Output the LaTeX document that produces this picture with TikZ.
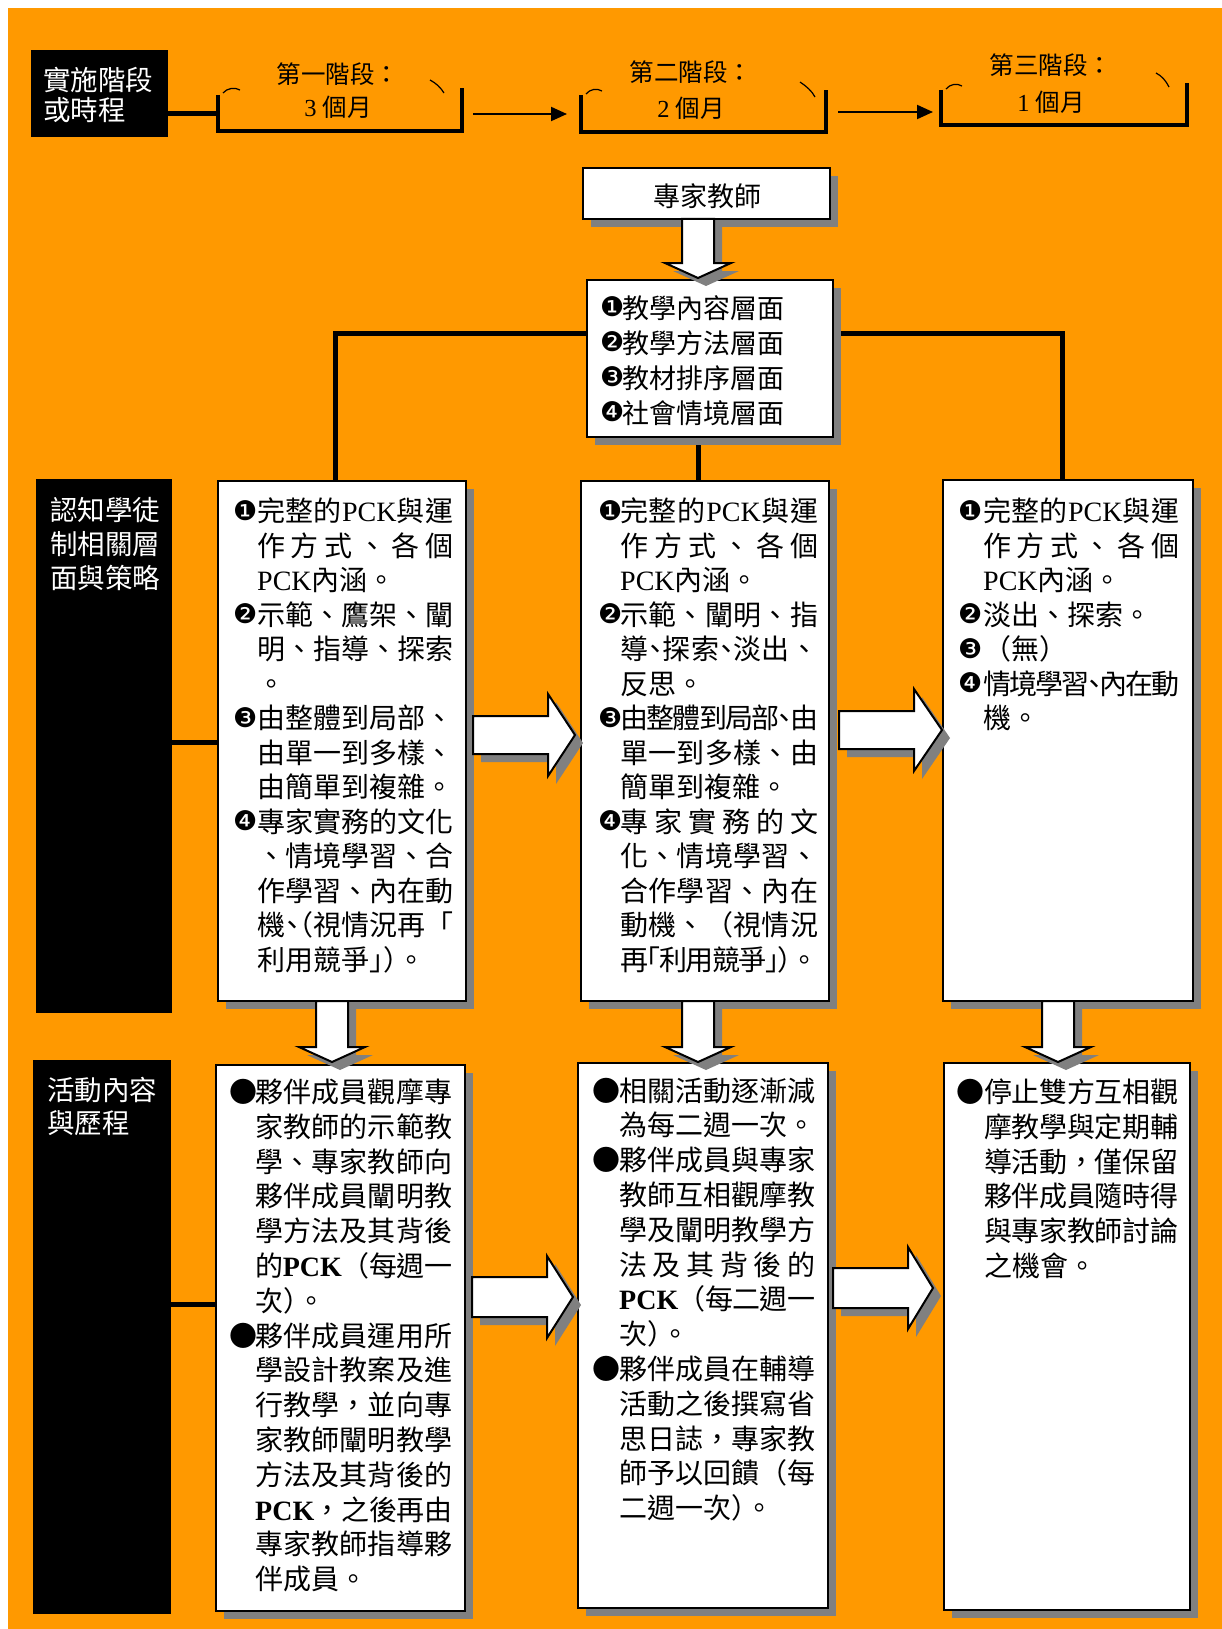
\documentclass[tikz,border=0pt]{standalone}
\usepackage{fontspec}
\setmainfont{Liberation Serif}
\newfontfamily\cjk{Noto Sans CJK TC}
\newfontfamily\dv{DejaVu Sans}
\usetikzlibrary{arrows.meta}
\definecolor{bgor}{HTML}{FF9900}
\definecolor{shg}{HTML}{808080}
\pgfdeclarelayer{back}
\pgfdeclarelayer{lines}
\pgfsetlayers{back,lines,main}
\newlength\bw
\newlength\tw
\newif\ifsprgap
\makeatletter
\newcommand\spr[1]{\hbox to\tw{\sprgapfalse\@tfor\spr@t:=#1\do{\ifsprgap\hskip0pt plus1fil minus1fil\relax\fi\sprgaptrue\spr@t}}}
\makeatother
\newcommand\bJ[2]{\hbox{\hbox to\bw{#1\hss}\spr{#2}}}
\newcommand\bN[2]{\hbox{\hbox to\bw{#1\hss}#2}}
\newcommand\cJ[1]{\hbox{\hskip\bw\relax\spr{#1}}}
\newcommand\cN[1]{\hbox{\hskip\bw\relax #1}}
\newcommand\tb[3]{\setlength\bw{#1}\setlength\tw{#2}\vtop{#3}}
\newcommand\pck{{\rmfamily PCK}}
\newcommand\pckb{{\rmfamily\bfseries PCK}}
\newcommand\hdn{\makebox[0.5em][c]{、}}
\newcommand\hpl{\makebox[0.5em][r]{（}}
\newcommand\hpr{\makebox[0.5em][l]{）}}
\newcommand\hlq{\makebox[0.5em][r]{「}}
\newcommand\hrq{\makebox[0.5em][l]{」}}
\newcommand\bul[1]{\raisebox{1.5pt}{\dv\fontsize{27}{27}\selectfont #1}}
\newcommand\kA{\bul{❶}}
\newcommand\kB{\bul{❷}}
\newcommand\kC{\bul{❸}}
\newcommand\kD{\bul{❹}}
\newcommand\kE{●}
\newcommand\rarr[5]{\draw[blk] (#1,#4-#5) -- (#2,#4-#5) -- (#2,#4-41) -- (#3,#4) -- (#2,#4+41) -- (#2,#4+#5) -- (#1,#4+#5) -- cycle;}
\newcommand\darr[4]{\draw[blk] (#1-16,#2) -- (#1-16,#3) -- (#1-33,#3) -- (#1,#4) -- (#1+33,#3) -- (#1+16,#3) -- (#1+16,#2) -- cycle;}
\begin{document}
\begin{tikzpicture}[x=1pt,y=-1pt,
 sh/.style={preaction={draw=none,fill=shg,transform canvas={xshift=8pt,yshift=-8pt}}},
 wbox/.style={rectangle,draw=black,line width=2pt,fill=white,sh,inner sep=0pt,outer sep=0pt,anchor=north west},
 lbox/.style={rectangle,fill=black,inner sep=0pt,outer sep=0pt,anchor=north west},
 conn/.style={line width=5pt,draw=black,line join=miter},
 brk/.style={line width=4pt,draw=black,line join=miter},
 tipc/.style={line width=1.2pt,draw=black},
 blk/.style={draw=black,line width=2pt,fill=white,sh,line join=miter},
 txt/.style={inner sep=0pt,anchor=base west,font=\cjk\fontsize{28}{34.5}\selectfont},
 htx/.style={inner sep=0pt,anchor=base,font=\cjk\fontsize{24.5}{30}\selectfont},
 wtx/.style={inner sep=0pt,anchor=base west,text=white},
 harr/.style={line width=2pt,-{Triangle[length=16pt,width=14pt]}},
]
\useasboundingbox (0,0) rectangle (1222,1629);
\begin{pgfonlayer}{back}
\fill[white] (0,0) rectangle (1222,1629);
\fill[bgor] (8,8) rectangle (1222,1629);
\end{pgfonlayer}

% boxes
\node[lbox,minimum width=137,minimum height=87] (lab1) at (31,50) {};
\node[lbox,minimum width=136,minimum height=534] (lab2) at (36,479) {};
\node[lbox,minimum width=138,minimum height=554] (lab3) at (33,1060) {};
\node[wbox,minimum width=247,minimum height=51] (exp) at (583,168) {};
\node[wbox,minimum width=246,minimum height=157] (asp) at (587,280) {};
\node[wbox,minimum width=248,minimum height=520] (r1a) at (218,481) {};
\node[wbox,minimum width=248,minimum height=520] (r1b) at (581,481) {};
\node[wbox,minimum width=250,minimum height=521] (r1c) at (943,480) {};
\node[wbox,minimum width=249,minimum height=546] (r2a) at (216,1065) {};
\node[wbox,minimum width=250,minimum height=545] (r2b) at (578,1063) {};
\node[wbox,minimum width=246,minimum height=547] (r2c) at (944,1063) {};

% connector lines
\coordinate (l1) at (0,114);
\coordinate (b1L) at (218,114);
\coordinate (l2) at (0,742);
\coordinate (l3) at (0,1304);
\coordinate (hl) at (335,333);
\coordinate (hr) at (1062,333);
\coordinate (vm) at (698,400);
\begin{pgfonlayer}{lines}
\draw[conn] (lab1.east |- l1) -- (b1L);
\draw[conn] (hl |- r1a.north) -- (hl) -- (hr) -- (hr |- r1c.north);
\draw[conn] (asp.south -| vm) -- (r1b.north -| vm);
\draw[conn] (lab2.east |- l2) -- (r1a.west |- l2);
\draw[conn] (lab3.east |- l3) -- (r2a.west |- l3);
\end{pgfonlayer}

% stage brackets
\draw[brk] (218,95) -- (218,131) -- (462,131) -- (462,88);
\draw[tipc] (223,93) .. controls (227,88) and (235,87) .. (240,90);
\draw[tipc] (430,80) .. controls (436,83) and (441,88) .. (444,93);
\draw[brk] (581,95) -- (581,132) -- (826,132) -- (826,90);
\draw[tipc] (586,94) .. controls (590,89) and (597,88) .. (602,91);
\draw[tipc] (800,82) .. controls (806,86) and (812,91) .. (815,97);
\draw[brk] (941,90) -- (941,125) -- (1187,125) -- (1187,83);
\draw[tipc] (946,89) .. controls (950,84) and (957,83) .. (962,86);
\draw[tipc] (1156,73) .. controls (1162,76) and (1166,81) .. (1169,87);
\coordinate (a1s) at (473,114);
\coordinate (a1e) at (567,114);
\coordinate (a2s) at (838,112);
\coordinate (a2e) at (933,112);
\draw[harr] (a1s) -- (a1e);
\draw[harr] (a2s) -- (a2e);

% block arrows
\darr{698}{219}{263}{278}
\darr{332}{1001}{1047}{1062}
\darr{698}{1001}{1047}{1062}
\darr{1058}{1001}{1047}{1062}
\rarr{473}{548}{575}{735}{19}
\rarr{839}{914}{942}{730}{19}
\rarr{472}{547}{573}{1297}{20}
\rarr{833}{908}{933}{1288}{20}

% header texts
\node[htx] (s1a) at (338,84) {第一階段：};
\node[htx] (s1b) at (338,117) {{\rmfamily 3 }個月};
\node[htx] (s2a) at (691,82) {第二階段：};
\node[htx] (s2b) at (691,118) {{\rmfamily 2 }個月};
\node[htx] (s3a) at (1051,75) {第三階段：};
\node[htx] (s3b) at (1051,112) {{\rmfamily 1 }個月};

% label texts
\node[wtx,font=\cjk\fontsize{27.5}{30}\selectfont] (lab1t) at (43,90.5) {\vtop{\hbox{實施階段}\hbox{或時程}}};
\node[wtx,font=\cjk\fontsize{27.5}{34}\selectfont] (lab2t) at (50,520.5) {\vtop{\hbox{認知學徒}\hbox{制相關層}\hbox{面與策略}}};
\node[wtx,font=\cjk\fontsize{27.5}{33}\selectfont] (lab3t) at (47,1100.5) {\vtop{\hbox{活動內容}\hbox{與歷程}}};

% expert and aspects
\node[inner sep=0pt,anchor=base,font=\cjk\fontsize{27}{27}\selectfont] (expt) at (707,207) {專家教師};
\node[txt,font=\cjk\fontsize{27}{35}\selectfont] (aspt) at (600,318.3) {\tb{22pt}{170pt}{%
\bN\kA{教學內容層面}
\bN\kB{教學方法層面}
\bN\kC{教材排序層面}
\bN\kD{社會情境層面}}};

% row 1 texts
\node[txt] (t1a) at (233,521.5) {\tb{24pt}{196pt}{%
\bJ\kA{完整的\pck 與運}
\cJ{作方式、各個}
\cN{\pck 內涵。}
\bJ\kB{示範、鷹架、闡}
\cJ{明、指導、探索}
\cN{。}
\bJ\kC{由整體到局部、}
\cJ{由單一到多樣、}
\cN{由簡單到複雜。}
\bJ\kD{專家實務的文化}
\cJ{、情境學習、合}
\cJ{作學習、內在動}
\cJ{機\hdn\hpl 視情況再「}
\cN{利用競爭\hrq\hpr 。}}};

\node[txt] (t1b) at (598,521.5) {\tb{22pt}{198pt}{%
\bJ\kA{完整的\pck 與運}
\cJ{作方式、各個}
\cN{\pck 內涵。}
\bJ\kB{示範、闡明、指}
\cJ{導\hdn 探索\hdn 淡出、}
\cN{反思。}
\bJ\kC{由整體到局部\hdn 由}
\cJ{單一到多樣、由}
\cN{簡單到複雜。}
\bJ\kD{專家實務的文}
\cJ{化、情境學習、}
\cJ{合作學習、內在}
\cJ{動機、（視情況}
\cJ{再\hlq 利用競爭\hrq\hpr 。}}};

\node[txt] (t1c) at (958,521.5) {\tb{25pt}{196pt}{%
\bJ\kA{完整的\pck 與運}
\cJ{作方式、各個}
\cN{\pck 內涵。}
\bN\kB{淡出、探索。}
\bN\kC{（無）}
\bJ\kD{情境學習\hdn 內在動}
\cN{機。}}};

% row 2 texts
\node[txt,font=\cjk\fontsize{28}{34.8}\selectfont] (t2a) at (229,1102.5) {\tb{26pt}{197pt}{%
\bJ\kE{夥伴成員觀摩專}
\cJ{家教師的示範教}
\cJ{學、專家教師向}
\cJ{夥伴成員闡明教}
\cJ{學方法及其背後}
\cJ{的\pckb （每週一}
\cN{次\hpr 。}
\bJ\kE{夥伴成員運用所}
\cJ{學設計教案及進}
\cJ{行教學，並向專}
\cJ{家教師闡明教學}
\cJ{方法及其背後的}
\cJ{\pckb ，之後再由}
\cJ{專家教師指導夥}
\cN{伴成員。}}};

\node[txt,font=\cjk\fontsize{28}{34.8}\selectfont] (t2b) at (592,1101) {\tb{27pt}{196pt}{%
\bJ\kE{相關活動逐漸減}
\cN{為每二週一次。}
\bJ\kE{夥伴成員與專家}
\cJ{教師互相觀摩教}
\cJ{學及闡明教學方}
\cJ{法及其背後的}
\cJ{\pckb （每二週一}
\cN{次\hpr 。}
\bJ\kE{夥伴成員在輔導}
\cJ{活動之後撰寫省}
\cJ{思日誌，專家教}
\cJ{師予以回饋（每}
\cN{二週一次\hpr 。}}};

\node[txt,font=\cjk\fontsize{28}{34.8}\selectfont] (t2c) at (956,1102.5) {\tb{28pt}{194pt}{%
\bJ\kE{停止雙方互相觀}
\cJ{摩教學與定期輔}
\cJ{導活動，僅保留}
\cJ{夥伴成員隨時得}
\cJ{與專家教師討論}
\cN{之機會。}}};
\end{tikzpicture}
\end{document}
